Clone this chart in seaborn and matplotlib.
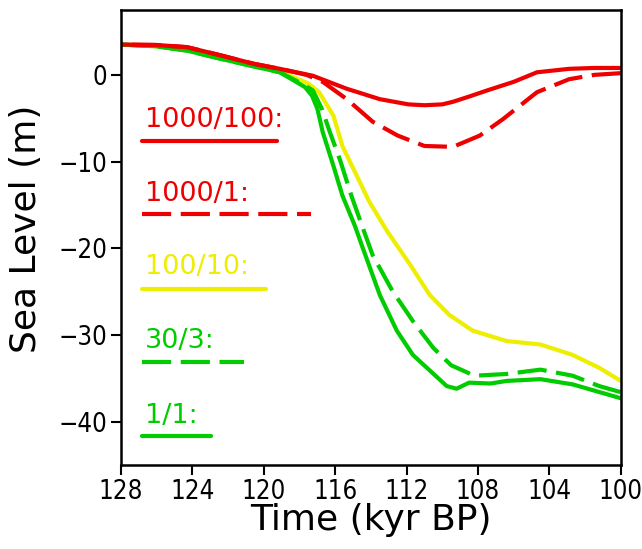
import matplotlib
matplotlib.use("Agg")
import matplotlib.pyplot as plt
from matplotlib import font_manager
import seaborn as sns
import pandas as pd

# ---- data ----
series_names = ["1000/100:", "1000/1:", "100/10:", "30/3:", "1/1:"]

t_1000_100 = [128, 126, 124.3, 122.5, 120.6, 119.1, 117.25, 115.35, 113.5, 111.9, 111.0, 110.0,
              109.4, 108.5, 107.5, 106.0, 104.7, 102.9, 101.5, 100]
sl_1000_100 = [3.5, 3.45, 3.2, 2.3, 1.3, 0.7, -0.1, -1.6, -2.8, -3.4, -3.5, -3.4,
               -3.1, -2.5, -1.8, -0.8, 0.3, 0.7, 0.8, 0.8]

t_1000_1 = [128, 126, 124.3, 122.5, 120.6, 119.1, 117.6, 116.7, 115.35, 113.9, 112.5, 111.0,
            109.4, 107.9, 106.6, 104.7, 102.9, 101.5, 100]
sl_1000_1 = [3.5, 3.45, 3.2, 2.3, 1.3, 0.7, 0.0, -0.8, -2.8, -5.4, -7.0, -8.2,
             -8.3, -7.0, -5.1, -2.0, -0.5, 0.0, 0.2]

t_100_10 = [128, 126, 124.3, 122.5, 120.6, 119.1, 117.5, 116.9, 116.1, 115.6, 114.8, 114.1,
            113.1, 111.8, 110.7, 109.6, 108.3, 106.4, 104.5, 102.7, 101.2, 100]
sl_100_10 = [3.5, 3.3, 2.9, 2.0, 1.1, 0.4, -1.0, -2.0, -4.7, -8.2, -11.6, -14.6,
             -18.0, -21.9, -25.4, -27.7, -29.5, -30.7, -31.1, -32.3, -33.8, -35.3]

t_30_3 = [128, 126, 124.3, 122.5, 120.6, 119.1, 117.7, 117.25, 116.75, 116.3, 115.7, 115.1,
          114.5, 113.9, 112.8, 111.65, 110.5, 109.5, 108.2, 107.3, 106.4, 104.5, 102.7, 101.2, 100]
sl_30_3 = [3.5, 3.3, 2.8, 1.9, 1.0, 0.3, -1.2, -1.8, -3.9, -6.6, -10.0, -13.9,
           -17.4, -20.8, -24.9, -28.4, -31.5, -33.5, -34.7, -34.6, -34.5, -34.0, -34.7, -35.9, -36.6]

t_1_1 = [128, 126, 124.3, 122.5, 120.6, 119.1, 117.7, 117.3, 117.0, 116.7, 116.1, 115.6,
         114.9, 114.45, 113.5, 112.55, 111.65, 110.7, 109.75, 109.2, 108.5, 107.3, 106.4,
         104.5, 102.7, 100]
sl_1_1 = [3.5, 3.3, 2.8, 1.9, 1.0, 0.3, -1.4, -2.4, -3.9, -6.6, -10.5, -13.9,
          -17.4, -20.0, -25.4, -29.5, -32.3, -34.1, -35.9, -36.2, -35.5, -35.6, -35.3,
          -35.1, -35.7, -37.3]

x_ticks = [128, 124, 120, 116, 112, 108, 104, 100]
y_ticks = [0, -10, -20, -30, -40]

# ---- styles ----
RED = "#ee0000"
YEL = "#eeee00"
GRN = "#00cc00"
DASH = (0, (7, 2.3))
series = [
    (t_1000_100, sl_1000_100, RED, "-"),
    (t_1000_1, sl_1000_1, RED, DASH),
    (t_100_10, sl_100_10, YEL, "-"),
    (t_30_3, sl_30_3, GRN, DASH),
    (t_1_1, sl_1_1, GRN, "-"),
]

sns.set_style("ticks")
plt.rcParams["font.family"] = ["DejaVu Sans"]
plt.rcParams["text.color"] = "black"
plt.rcParams["axes.labelcolor"] = "black"
plt.rcParams["xtick.color"] = "black"
plt.rcParams["ytick.color"] = "black"

names = {f.name for f in font_manager.fontManager.ttflist}
if "Liberation Sans Narrow" in names:
    tick_kw = dict(family=["Liberation Sans Narrow", "DejaVu Sans"], fontsize=20)
else:
    tick_kw = dict(family=["DejaVu Sans"], fontsize=18.5, fontstretch="condensed")

fig = plt.figure(figsize=(6.42, 5.49), dpi=100)
ax = fig.add_axes([0.1885, 0.153, 0.7785, 0.829])

order = [2, 3, 4, 1, 0]
for i in order:
    t, sl, c, ls = series[i]
    df = pd.DataFrame({"t": t, "sl": sl})
    sns.lineplot(data=df, x="t", y="sl", ax=ax, color=c, lw=3.0,
                 linestyle=ls, dash_capstyle="butt", solid_capstyle="round",
                 solid_joinstyle="round")

# in-plot legend (labels with sample lines)
leg_text_y = [-6.0, -14.5, -23.0, -31.5, -40.1]
leg_line_y = [-7.6, -16.1, -24.7, -33.1, -41.7]
leg_line_end = [119.27, 117.36, 119.88, 121.11, 122.96]
leg_x0 = 126.82
for i, name in enumerate(series_names):
    _, _, c, ls = series[i]
    ax.text(126.66, leg_text_y[i], name, color=c, fontsize=19.5,
            ha="left", va="baseline")
    ax.plot([leg_x0, leg_line_end[i]], [leg_line_y[i]] * 2, color=c, lw=3.0,
            linestyle=ls, dash_capstyle="butt", solid_capstyle="round")

ax.set_xlim(128, 100)
ax.set_ylim(-45, 7.5)
ax.set_xticks(x_ticks)
ax.set_yticks(y_ticks)
ax.set_xticklabels([str(v) for v in x_ticks], **tick_kw)
ax.set_yticklabels(["\u2212" + str(-v) if v < 0 else str(v) for v in y_ticks], **tick_kw)
ax.tick_params(axis="both", direction="out", length=7, width=1.5, pad=3,
               colors="black")
for s in ax.spines.values():
    s.set_visible(True)
    s.set_linewidth(1.8)
    s.set_color("black")

ax.set_xlabel("Time (kyr BP)", fontsize=26)
ax.set_ylabel("Sea Level (m)", fontsize=26)
ax.xaxis.set_label_coords(0.5, -0.121, transform=ax.transAxes)
ax.yaxis.set_label_coords(-0.19, 0.52, transform=ax.transAxes)
ax.xaxis.label.set_va("center")
ax.yaxis.label.set_va("center")

fig.savefig("out.png", dpi=100)
